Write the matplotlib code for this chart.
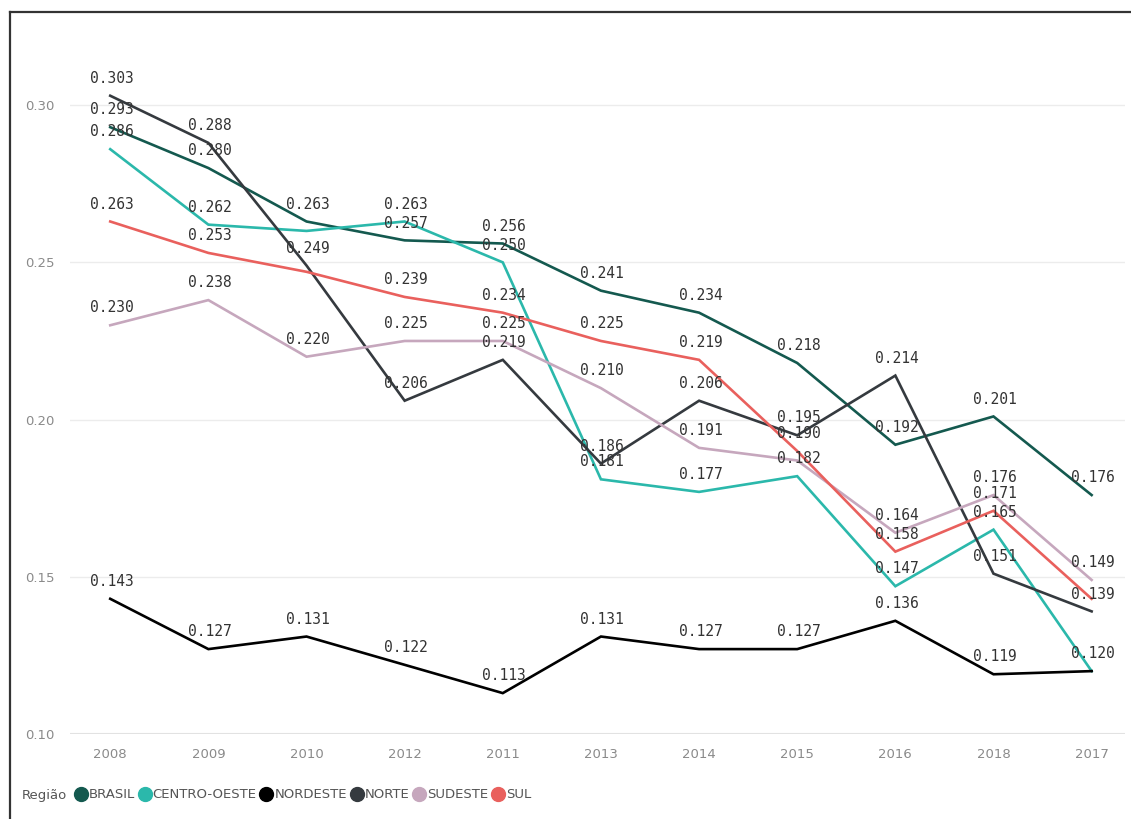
import matplotlib
matplotlib.use('Agg')
import matplotlib.pyplot as plt
from matplotlib.lines import Line2D

# ─── DADOS ────────────────────────────────────────────────────
anos = ["2008", "2009", "2010", "2012", "2011", "2013", "2014", "2015", "2016", "2018", "2017"]

brasil       = [0.293, 0.280, 0.263, 0.257, 0.256, 0.241, 0.234, 0.218, 0.192, 0.201, 0.176]
centro_oeste = [0.286, 0.262, 0.260, 0.263, 0.250, 0.181, 0.177, 0.182, 0.147, 0.165, 0.120]
nordeste     = [0.143, 0.127, 0.131, 0.122, 0.113, 0.131, 0.127, 0.127, 0.136, 0.119, 0.120]
norte        = [0.303, 0.288, 0.249, 0.206, 0.219, 0.186, 0.206, 0.195, 0.214, 0.151, 0.139]
sudeste      = [0.230, 0.238, 0.220, 0.225, 0.225, 0.210, 0.191, 0.187, 0.164, 0.176, 0.149]
sul          = [0.263, 0.253, 0.247, 0.239, 0.234, 0.225, 0.219, 0.190, 0.158, 0.171, 0.143]

series = [
    ("BRASIL", brasil, "#14594f"),
    ("CENTRO-OESTE", centro_oeste, "#2bb8ab"),
    ("NORDESTE", nordeste, "#000000"),
    ("NORTE", norte, "#353a3f"),
    ("SUDESTE", sudeste, "#c6a7bd"),
    ("SUL", sul, "#e9605d"),
]

# rótulos que ficam escondidos por sobreposição
ocultos = {("CENTRO-OESTE", 2), ("SUL", 2), ("SUDESTE", 7), ("SUL", 10), ("NORDESTE", 10)}

# ─── GRÁFICO ──────────────────────────────────────────────────
W, H = 1131, 819
fig = plt.figure(figsize=(W / 100, H / 100), dpi=100)
ax = fig.add_axes([70 / W, (H - 734) / H, (1125 - 70) / W, (734 - 58) / H])

x = list(range(len(anos)))
for nome, valores, cor in series:
    ax.plot(x, valores, color=cor, lw=1.9, solid_joinstyle="miter", zorder=3)

for nome, valores, cor in series:
    for i, v in enumerate(valores):
        if (nome, i) in ocultos:
            continue
        ax.annotate(f"{v:.3f}", (i, v), xytext=(1, 12.5), textcoords="offset points",
                    ha="center", va="center", fontsize=10.5,
                    family="DejaVu Sans Mono", color="#333333", zorder=5)

ax.set_xlim(-0.41, 10.34)
ax.set_ylim(0.10, 0.315)
ax.set_xticks(x)
ax.set_xticklabels(anos)
ax.set_yticks([0.10, 0.15, 0.20, 0.25, 0.30])
ax.set_yticklabels(["0.10", "0.15", "0.20", "0.25", "0.30"])
ax.tick_params(length=0, labelsize=9.5, colors="#8a8a8a", pad=10)
ax.tick_params(axis="y", pad=11)
ax.grid(axis="y", color="#ececec", lw=1)
ax.axhline(0.10, color="#e2e2e2", lw=1.5)
for s in ax.spines.values():
    s.set_visible(False)

# legenda
fig.text(22 / W, (H - 795) / H, "Região", fontsize=9.5, color="#555555", va="center")
handles = [Line2D([], [], marker="o", ls="", ms=10, color=cor, label=nome)
           for nome, _, cor in series]
fig.legend(handles=handles, loc="center left", bbox_to_anchor=(68 / W, (H - 795) / H),
           ncol=6, frameon=False, handletextpad=0.05, columnspacing=0.2,
           handlelength=1.1, fontsize=9.5, labelcolor="#555555", borderaxespad=0)

# moldura (esquerda e topo)
fig.add_artist(Line2D([10 / W, 10 / W], [0, (H - 12) / H], color="#333333", lw=1.6))
fig.add_artist(Line2D([10 / W, 1], [(H - 12) / H, (H - 12) / H], color="#333333", lw=1.6))

plt.savefig("out.png", dpi=100)
plt.close()
